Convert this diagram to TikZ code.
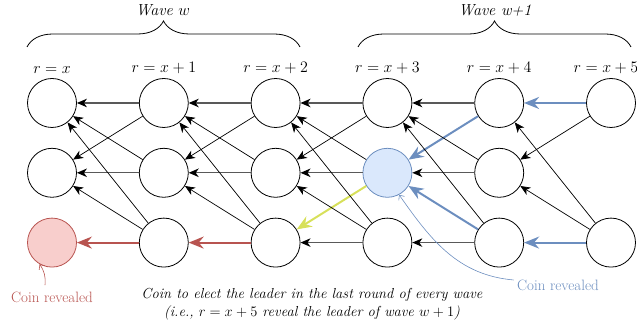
\documentclass[tikz,border=0pt]{standalone}
\usepackage{fix-cm}
\usepackage{fontspec}
\usepackage{tikz}
\usetikzlibrary{positioning,arrows.meta,decorations.pathreplacing}

\definecolor{coinred}{HTML}{B85450}
\definecolor{coinredfill}{HTML}{F8CECC}
\definecolor{coinblue}{HTML}{6C8EBF}
\definecolor{coinbluefill}{HTML}{DAE8FC}
\definecolor{leaderyellow}{HTML}{D7E05A}

\begin{document}
\begin{tikzpicture}[
    x=1pt, y=1pt,
    node distance=20pt and 62pt,
    round/.style={draw, circle, minimum size=49pt, inner sep=0pt, line width=0.8pt},
    arrow/.style={-{Stealth[length=10pt, width=8.5pt, inset=3pt, color=black]}, line width=0.7pt},
    harrow/.style={arrow, line width=1.2pt, draw=black!65},
    coinarrow/.style={-{Stealth[length=15pt, width=12pt, inset=5pt]}, line width=2pt},
    thinarrow/.style={-{Straight Barb[length=4pt, width=7pt]}, line width=0.6pt},
    lbl/.style={font=\fontsize{15}{18}\selectfont},
    roundlbl/.style={font=\fontsize{16}{19}\selectfont},
    wavebrace/.style={decorate, decoration={brace, amplitude=26pt}, line width=0.8pt}
]
\useasboundingbox (0,0) rectangle (637,328);

% Nodes
\node[round] (c0t) at (52,225) {};
\node[round, below=of c0t] (c0m) {};
\node[round, below=of c0m, fill=coinredfill, draw=coinred] (c0b) {};
\node[round, right=of c0t] (c1t) {};
\node[round, right=of c0m] (c1m) {};
\node[round, right=of c0b] (c1b) {};
\node[round, right=of c1t] (c2t) {};
\node[round, right=of c1m] (c2m) {};
\node[round, right=of c1b] (c2b) {};
\node[round, right=of c2t] (c3t) {};
\node[round, right=of c2m, fill=coinbluefill, draw=coinblue] (c3m) {};
\node[round, right=of c2b] (c3b) {};
\node[round, right=of c3t] (c4t) {};
\node[round, right=of c3m] (c4m) {};
\node[round, right=of c3b] (c4b) {};
\node[round, right=of c4t] (c5t) {};
\node[round, right=of c4b] (c5b) {};

% Round labels
\node[roundlbl, above=1pt of c0t] (r0) {$r = x$};
\node[roundlbl, above=1pt of c1t] (r1) {$r = x + 1$};
\node[roundlbl, above=1pt of c2t] (r2) {$r = x + 2$};
\node[roundlbl, above=1pt of c3t] (r3) {$r = x + 3$};
\node[roundlbl, above=1pt of c4t] (r4) {$r = x + 4$};
\node[roundlbl, above=1pt of c5t, xshift=-5pt] (r5) {$r = x + 5$};

% Waves
\draw[wavebrace] (27,281) -- (300,281);
\draw[wavebrace] (358,281) -- (631,281);
\node[roundlbl] (wave0) at (163,318) {\textit{Wave $w$}};
\node[roundlbl] (wave1) at (495,318) {\textit{Wave w+1}};

% Texts
\node[lbl, text=coinred] (redcoin) at (52,31) {Coin revealed};
\node[lbl, text=coinblue] (bluecoin) at (558,43) {Coin revealed};
\node[lbl, font=\fontsize{14.5}{18}\selectfont, align=center] (caption) at (312,24) {\textit{Coin to elect the leader in the last round of every wave}\\\textit{(i.e., $r = x + 5$ reveal the leader of wave $w + 1$)}};

% Arrows x+1 -> x
\draw[harrow] (c1t) -- (c0t);
\draw[arrow] (c1t) -- (c0m);
\draw[arrow] (c1m) -- (c0t);
\draw[harrow] (c1m) -- (c0m);
\draw[arrow] (c1b) -- (c0t);
\draw[arrow] (c1b) -- (c0m);
\draw[coinarrow, coinred] (c1b) -- (c0b);

% Arrows x+2 -> x+1
\draw[harrow] (c2t) -- (c1t);
\draw[arrow] (c2t) -- (c1m);
\draw[arrow] (c2m) -- (c1t);
\draw[harrow] (c2m) -- (c1m);
\draw[arrow] (c2b) -- (c1t);
\draw[arrow] (c2b) -- (c1m);
\draw[coinarrow, coinred] (c2b) -- (c1b);

% Arrows x+3 -> x+2
\draw[harrow] (c3t) -- (c2t);
\draw[arrow] (c3t) -- (c2m);
\draw[arrow] (c3m) -- (c2t);
\draw[harrow] (c3m) -- (c2m);
\draw[coinarrow, leaderyellow] (c3m) -- (c2b);
\draw[arrow] (c3b) -- (c2t);
\draw[arrow] (c3b) -- (c2m);
\draw[harrow] (c3b) -- (c2b);

% Arrows x+4 -> x+3
\draw[harrow] (c4t) -- (c3t);
\draw[coinarrow, coinblue] (c4t) -- (c3m);
\draw[arrow] (c4m) -- (c3t);
\draw[harrow] (c4m) -- (c3m);
\draw[arrow] (c4b) -- (c3t);
\draw[coinarrow, coinblue] (c4b) -- (c3m);
\draw[harrow] (c4b) -- (c3b);

% Arrows x+5 -> x+4
\draw[coinarrow, coinblue] (c5t) -- (c4t);
\draw[arrow] (c5t) -- (c4m);
\draw[arrow] (c5b) -- (c4t);
\draw[arrow] (c5b) -- (c4m);
\draw[coinarrow, coinblue] (c5b) -- (c4b);

% Coin pointers
\draw[thinarrow, coinred] ([xshift=-7pt, yshift=3pt]redcoin.north) to[bend right=20] (c0b.-120);
\draw[thinarrow, coinblue] ([yshift=5pt]bluecoin.west) to[out=175, in=-55] (c3m.-62);

\end{tikzpicture}
\end{document}
